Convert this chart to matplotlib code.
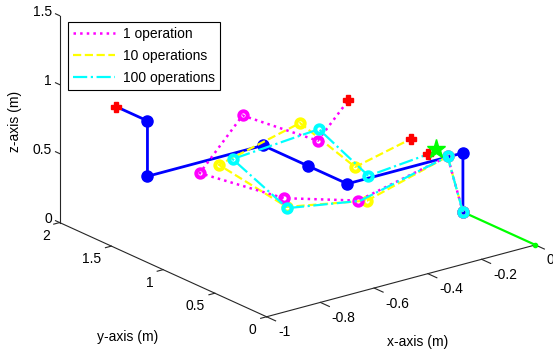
import numpy as np
import matplotlib
matplotlib.use("Agg")
import matplotlib.pyplot as plt
from mpl_toolkits.mplot3d import proj3d

plt.rcParams['font.family'] = ['Liberation Sans', 'DejaVu Sans']
plt.rcParams['font.size'] = 10

# ---- arm geometry (metres) ----
base_x = [0.0, 0.0]
base_y = [0.0, 0.7]
base_z = [0.0, 0.0]

# initial configuration
init_x = [0.0, 0.0, -0.43, -0.43, -0.43, -0.86, -0.86, -0.86]
init_y = [0.7, 0.7, 0.7, 1.08, 1.515, 1.515, 1.515, 1.815]
init_z = [0.0, 0.428, 0.428, 0.428, 0.428, 0.428, 0.83, 0.83]

# after 1 operation
op1_x = [0.0, -0.057, -0.389, -0.520, -0.671, -0.512, -0.232, -0.003]
op1_y = [0.7, 0.7, 0.7, 1.08, 1.5, 1.5, 1.5, 1.8]
op1_z = [0.0, 0.432, 0.285, 0.241, 0.358, 0.693, 0.364, 0.435]

# after 10 operations
op10_x = [0.0, -0.057, -0.356, -0.509, -0.600, -0.298, -0.093, 0.0]
op10_y = [0.7, 0.7, 0.7, 1.08, 1.5, 1.5, 1.5, 1.2]
op10_z = [0.0, 0.432, 0.268, 0.172, 0.381, 0.527, 0.101, 0.36]

# after 100 operations
op100_x = [0.0, -0.057, -0.383, -0.507, -0.549, -0.228, -0.159, -0.090]
op100_y = [0.7, 0.7, 0.7, 1.08, 1.5, 1.5, 1.2, 0.8]
op100_z = [0.0, 0.432, 0.280, 0.162, 0.396, 0.446, 0.174, 0.432]

# target point
target = (-0.060, 0.8, 0.450)

x_ticks = [-1, -0.8, -0.6, -0.4, -0.2, 0]
x_tick_labels = ['-1', '-0.8', '-0.6', '-0.4', '-0.2', '0']
y_ticks = [0, 0.5, 1, 1.5, 2]
y_tick_labels = ['0', '0.5', '1', '1.5', '2']
z_ticks = [0, 0.5, 1, 1.5]
z_tick_labels = ['0', '0.5', '1', '1.5']

W, H = 553, 354
fig = plt.figure(figsize=(W / 100, H / 100), dpi=100)
ax = fig.add_axes([0, 0, H / W, 1], projection='3d', computed_zorder=False)
ax.set_proj_type('ortho')
ax.view_init(elev=20.41, azim=-127.46)
ax.set_box_aspect((1, 1.005, 0.652))
ax.set_xlim(-1, 0)
ax.set_ylim(0, 2)
ax.set_zlim(0, 1.5)
ax.set_axis_off()

# place the square 3-D axes so the plot box fills the figure as intended
fig.canvas.draw()
M = ax.get_proj()
corners = [(-1, 0, 0), (0, 0, 0), (-1, 2, 0), (-1, 2, 1.5)]
goal = [(266.7, 316.7), (535.0, 245.5), (60.0, 222.7), (59.5, 15.0)]
bb = ax.bbox
rows, rhs = [], []
for (cx, cy, cz), (gx, gy) in zip(corners, goal):
    px, py, _ = proj3d.proj_transform(cx, cy, cz, M)
    dx, dy = ax.transData.transform((px, py))
    u = (dx - bb.x0) / bb.width
    v = (dy - bb.y0) / bb.height
    rows.append([1, 0, u]); rhs.append(gx)
    rows.append([0, 1, v]); rhs.append(H - gy)
L, B, S = np.linalg.lstsq(np.array(rows), np.array(rhs), rcond=None)[0]
ax.set_position([L / W, B / H, S / W, S / H])


def label_at(x, y, z, s, **kw):
    """Flat text anchored at a 3-D point of the box."""
    px, py, _ = proj3d.proj_transform(x, y, z, M)
    ax.text2D(px, py, s, transform=ax.transData, color='black', **kw)


# ---- box axes, ticks and tick labels ----
axc = '#262626'
ax.plot([-1, 0], [0, 0], [0, 0], color=axc, lw=0.8, zorder=1)
ax.plot([-1, -1], [0, 2], [0, 0], color=axc, lw=0.8, zorder=1)
ax.plot([-1, -1], [2, 2], [0, 1.5], color=axc, lw=0.8, zorder=1)
for xv, lab in zip(x_ticks, x_tick_labels):
    ax.plot([xv, xv], [0, -0.087], [0, 0], color=axc, lw=0.8, zorder=1)
    label_at(xv, -0.11, -0.075, lab, ha='left', va='center')
for yv, lab in zip(y_ticks, y_tick_labels):
    ax.plot([-1, -1.022], [yv, yv], [0, 0], color=axc, lw=0.8, zorder=1)
    label_at(-1.037, yv, -0.075, lab, ha='right', va='center')
for zv, lab in zip(z_ticks, z_tick_labels):
    ax.plot([-1, -1], [2, 2.04], [zv, zv], color=axc, lw=0.8, zorder=1)
    label_at(-1, 2.075, zv, lab, ha='right', va='center')

# ---- arms ----
ax.plot(base_x, base_y, base_z, color=(0, 1, 0), lw=1.6, zorder=2)
ax.plot(base_x[:1], base_y[:1], base_z[:1], 'o', color=(0, 1, 0), ms=3, zorder=2)

ax.plot(init_x, init_y, init_z, '-', color='blue', lw=2.0, zorder=3)
ax.plot(init_x[:-1], init_y[:-1], init_z[:-1], 'o', color='blue', ms=8,
        mew=1, zorder=3)
ax.plot(init_x[-1:], init_y[-1:], init_z[-1:], 'P', color='red', ms=6.5,
        zorder=3)

ring = dict(marker='o', ms=6.0, mew=2.9, mfc='none', ls='none')

h10, = ax.plot(op10_x, op10_y, op10_z, '--', color=(1, 1, 0), lw=1.6,
               zorder=4, label='10 operations')
ax.plot(op10_x[:-1], op10_y[:-1], op10_z[:-1], color=(1, 1, 0), zorder=4,
        **ring)
ax.plot(op10_x[-1:], op10_y[-1:], op10_z[-1:], 'P', color='red', ms=6.5,
        zorder=4)

h1, = ax.plot(op1_x, op1_y, op1_z, ':', color=(1, 0, 1), lw=1.8,
              zorder=5, label='1 operation')
ax.plot(op1_x[:-1], op1_y[:-1], op1_z[:-1], color=(1, 0, 1), zorder=5,
        **ring)
ax.plot(op1_x[-1:], op1_y[-1:], op1_z[-1:], 'P', color='red', ms=6.5,
        zorder=5)

h100, = ax.plot(op100_x, op100_y, op100_z, '-.', color=(0, 1, 1), lw=1.6,
                zorder=6, label='100 operations')
ax.plot(op100_x[:-1], op100_y[:-1], op100_z[:-1], color=(0, 1, 1), zorder=6,
        markevery=[0, 1, 3, 4, 5, 6], **ring)
ax.plot(op100_x[-1:], op100_y[-1:], op100_z[-1:], 'P', color='red', ms=6.5,
        zorder=6)

ax.plot([target[0]], [target[1]], [target[2]], '*', color=(0, 1, 0),
        ms=14, zorder=7)

# ---- axis titles ----
fig.text(418 / W, 1 - 342 / H, 'x-axis (m)', ha='center', va='center')
fig.text(127.5 / W, 1 - 336.5 / H, 'y-axis (m)', ha='center', va='center')
fig.text(15 / W, 1 - 121 / H, 'z-axis (m)', ha='center', va='center',
         rotation=90)

leg = fig.legend([h1, h10, h100],
                 ['1 operation', '10 operations', '100 operations'],
                 loc='upper left', bbox_to_anchor=(67.7 / W, 1 - 21.7 / H),
                 bbox_transform=fig.transFigure, borderaxespad=0,
                 fancybox=False, edgecolor='black', framealpha=1,
                 handlelength=3.0, handletextpad=0.6, labelspacing=0.58,
                 borderpad=0.38)
leg.get_frame().set_linewidth(0.8)

fig.savefig('out.png', dpi=100)
